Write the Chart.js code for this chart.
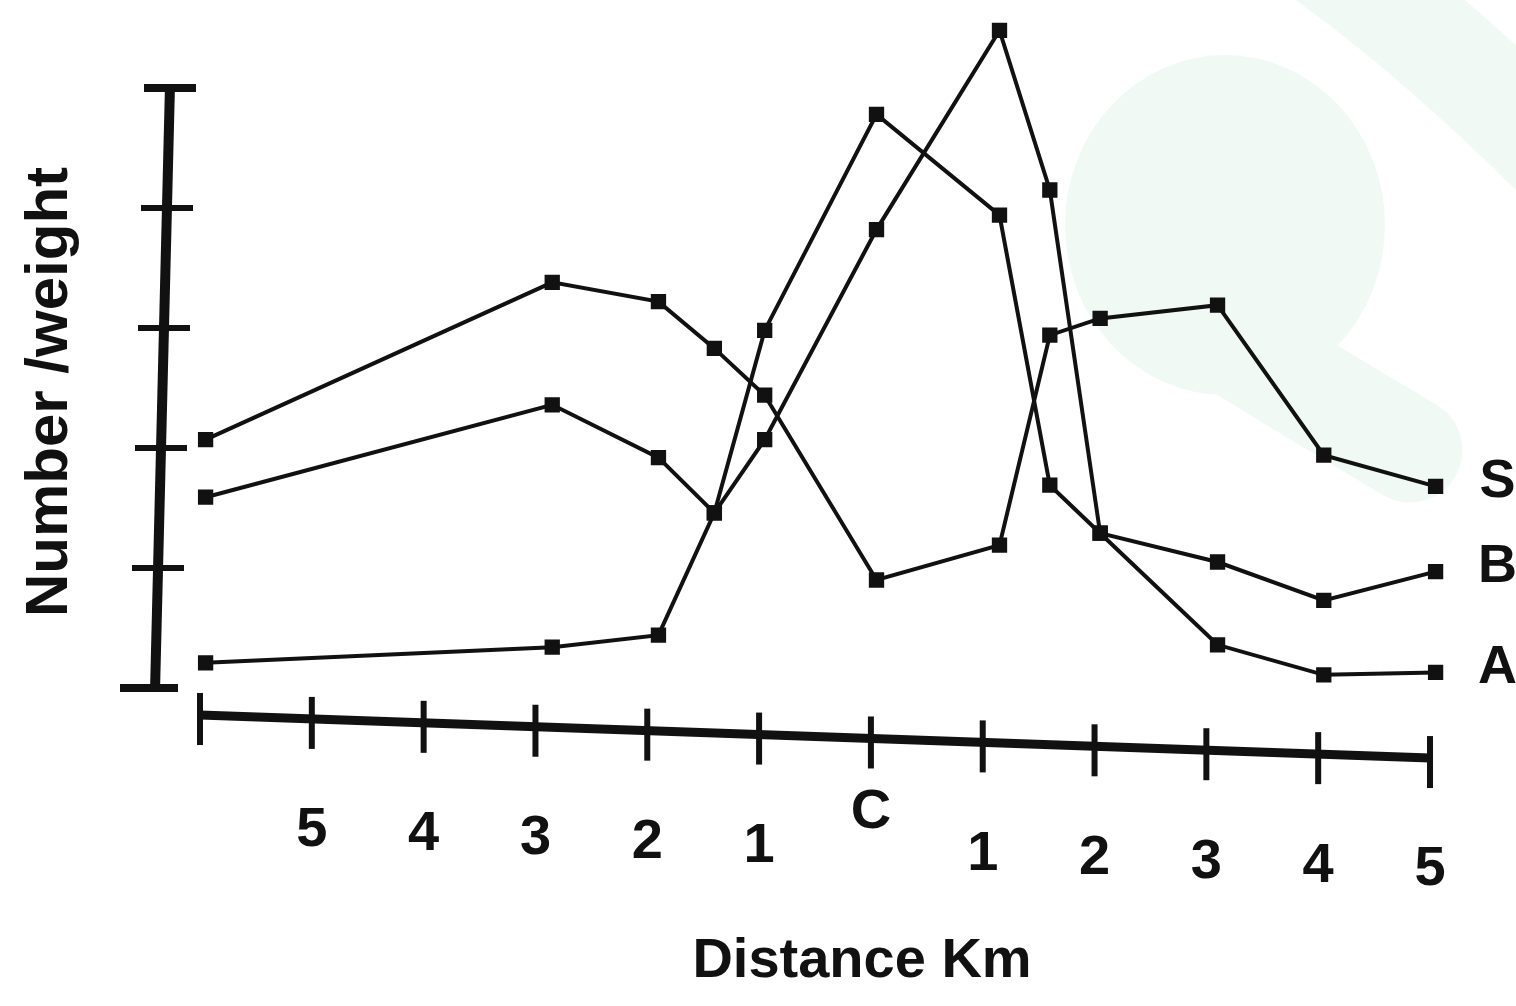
<!DOCTYPE html>
<html>
<head>
<meta charset="utf-8">
<title>Number / weight against distance</title>
<script src="https://cdn.jsdelivr.net/npm/chart.js@4/dist/chart.umd.min.js"></script>
<style>
  html, body { margin: 0; padding: 0; background: #ffffff; }
  #wrap { width: 1516px; height: 1006px; position: relative; }
  canvas { display: block; }
</style>
</head>
<body>
<div id="wrap"><canvas id="chart" width="1516" height="1006"></canvas></div>
<script>
// Sampling stations, km from the centre C (negative = one side, positive = the other)
const distanceKm = [-5.95, -2.85, -1.9, -1.4, -0.95, 0.05, 1.15, 1.6, 2.05, 3.1, 4.05, 5.05];

// Number / weight recorded for each group at those stations
const seriesS = [2.07, 3.38, 3.22, 2.83, 2.44, 0.90, 1.19, 2.94, 3.08, 3.19, 1.94, 1.68];
const seriesB = [1.59, 2.36, 1.92, 1.46, 2.07, 3.82, 5.48, 4.15, 1.29, 1.05, 0.73, 0.97];
const seriesA = [0.21, 0.34, 0.44, 1.46, 2.98, 4.78, 3.94, 1.69, 1.29, 0.36, 0.11, 0.13];
const seriesNames = ['S', 'B', 'A'];

// Axis ticks
const xTickValues = [-6, -5, -4, -3, -2, -1, 0, 1, 2, 3, 4, 5];
const xTickLabels = ['', '5', '4', '3', '2', '1', 'C', '1', '2', '3', '4', '5'];
const yTickValues = [0, 1, 2, 3, 4, 5];

const xTitle = 'Distance Km';
const yTitle = 'Number /weight';

const INK = '#111111';
const FONT = "'Liberation Sans', Arial, sans-serif";

function toPoints(values) {
  return values.map((v, i) => ({ x: distanceKm[i], y: v }));
}

function lineDataset(label, values) {
  return {
    label: label,
    data: toPoints(values),
    borderColor: INK,
    backgroundColor: INK,
    borderWidth: 4,
    pointStyle: 'rect',
    pointRadius: 8,
    pointHoverRadius: 8,
    tension: 0,
    clip: false
  };
}

// Faint mint logo shape sitting behind the plot on the right
const backdrop = {
  id: 'backdrop',
  beforeDraw(chart) {
    const c = chart.ctx;
    c.save();
    c.fillStyle = '#f1f9f5';
    c.strokeStyle = '#f1f9f5';
    c.beginPath();
    c.ellipse(1225, 225, 160, 170, 0, 0, Math.PI * 2);
    c.fill();
    c.lineCap = 'round';
    c.lineWidth = 105;
    c.beginPath();
    c.moveTo(1330, -40);
    c.quadraticCurveTo(1440, 40, 1560, 160);
    c.stroke();
    c.beginPath();
    c.moveTo(1180, 310);
    c.quadraticCurveTo(1300, 385, 1410, 450);
    c.stroke();
    c.restore();
  }
};

// Hand-ruled looking axes, tick labels, titles and end-of-line series names
const ruledAxes = {
  id: 'ruledAxes',
  afterDatasetsDraw(chart) {
    const c = chart.ctx;
    const xs = chart.scales.x;
    const ys = chart.scales.y;
    const area = chart.chartArea;
    c.save();
    c.strokeStyle = INK;
    c.fillStyle = INK;
    c.lineCap = 'butt';

    // Vertical axis, leaning slightly like the ruled original
    const y0 = ys.getPixelForValue(0);
    const yAxisX = v => area.left - 45 + v * 3;
    c.lineWidth = 10;
    c.beginPath();
    c.moveTo(yAxisX(0), y0 + 3);
    c.lineTo(yAxisX(5), ys.getPixelForValue(5) - 3);
    c.stroke();
    yTickValues.forEach(v => {
      const py = ys.getPixelForValue(v);
      const ax = yAxisX(v);
      const isEnd = (v === 0 || v === 5);
      c.lineWidth = isEnd ? 8 : 6;
      c.beginPath();
      c.moveTo(ax - (v === 0 ? 35 : 26), py);
      c.lineTo(ax + (v === 0 ? 23 : 26), py);
      c.stroke();
    });

    // Horizontal axis, drooping a little towards the right
    const xBase = px => y0 + 27 + (px - area.left) * 0.035;
    const xFirst = xs.getPixelForValue(xTickValues[0]);
    const xLast = xs.getPixelForValue(xTickValues[xTickValues.length - 1]);
    c.lineWidth = 9;
    c.beginPath();
    c.moveTo(xFirst, xBase(xFirst));
    c.lineTo(xLast, xBase(xLast));
    c.stroke();
    c.lineWidth = 6;
    xTickValues.forEach(v => {
      const px = xs.getPixelForValue(v);
      const b = xBase(px);
      c.beginPath();
      c.moveTo(px, b - 22);
      c.lineTo(px, b + 30);
      c.stroke();
    });

    // Tick labels
    c.font = 'bold 56px ' + FONT;
    c.textAlign = 'center';
    c.textBaseline = 'middle';
    xTickValues.forEach((v, i) => {
      const txt = xTickLabels[i];
      if (!txt) return;
      const px = xs.getPixelForValue(v);
      const lift = txt === 'C' ? 38 : 0;
      c.fillText(txt, px, xBase(px) + 112 - lift);
    });

    // Axis titles
    c.font = 'bold 56px ' + FONT;
    c.fillText(xTitle, 862, 962);
    c.save();
    c.translate(50, 392);
    c.rotate(-Math.PI / 2);
    c.font = 'bold 60px ' + FONT;
    c.fillText(yTitle, 0, 0);
    c.restore();

    // Series names at the end of each line
    c.font = 'bold 54px ' + FONT;
    chart.data.datasets.forEach((ds, i) => {
      const meta = chart.getDatasetMeta(i);
      const last = meta.data[meta.data.length - 1];
      c.fillText(seriesNames[i], last.x + 62, last.y - 4);
    });
    c.restore();
  }
};

new Chart(document.getElementById('chart'), {
  type: 'line',
  data: {
    datasets: [
      lineDataset(seriesNames[0], seriesS),
      lineDataset(seriesNames[1], seriesB),
      lineDataset(seriesNames[2], seriesA)
    ]
  },
  options: {
    responsive: false,
    animation: false,
    devicePixelRatio: 1,
    layout: { padding: { left: 200, right: 86, top: 16, bottom: 318 } },
    plugins: {
      legend: { display: false },
      tooltip: { enabled: false }
    },
    scales: {
      x: { type: 'linear', min: -6, max: 5, display: false },
      y: { type: 'linear', min: 0, max: 5.6, display: false }
    }
  },
  plugins: [backdrop, ruledAxes]
});
</script>
</body>
</html>
